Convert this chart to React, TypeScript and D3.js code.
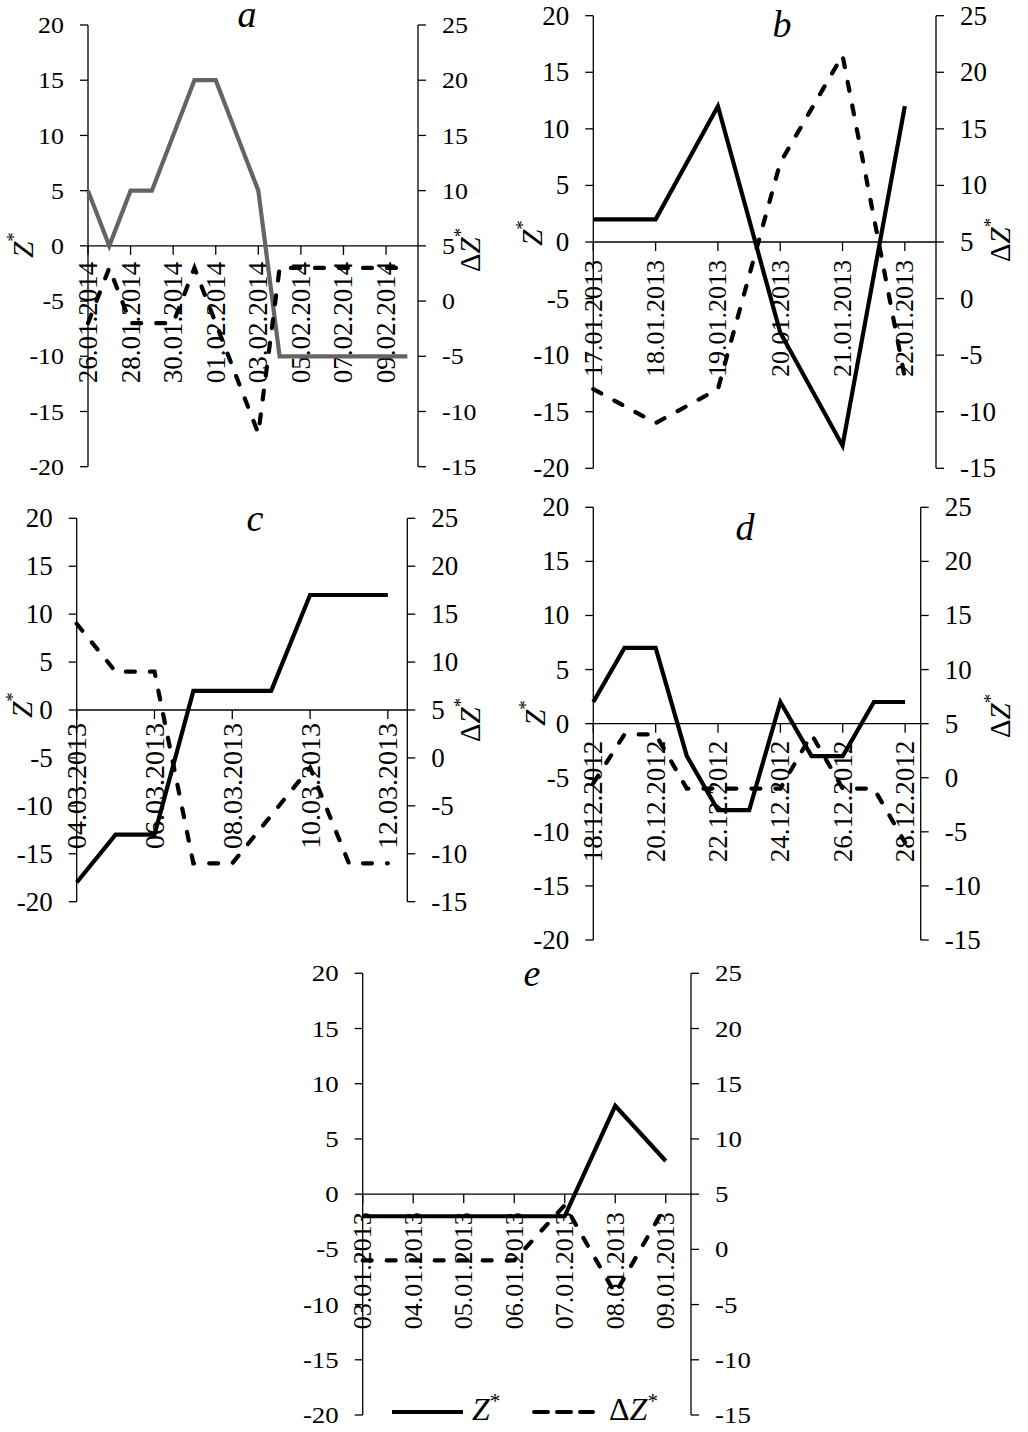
import React from 'react';
import * as d3 from 'd3';

// ---- data ----
const leftTicks = [20, 15, 10, 5, 0, -5, -10, -15, -20];
const rightTicks = [25, 20, 15, 10, 5, 0, -5, -10, -15];

const datesA = ['26.01.2014', '27.01.2014', '28.01.2014', '29.01.2014', '30.01.2014', '31.01.2014', '01.02.2014', '02.02.2014', '03.02.2014', '04.02.2014', '05.02.2014', '06.02.2014', '07.02.2014', '08.02.2014', '09.02.2014', '10.02.2014'];
const zA = [5, 0, 5, 5, 10, 15, 15, 10, 5, -10, -10, -10, -10, -10, -10, -10];
const dzA = [-2, 3, -2, -2, -2, 3, -2, -7, -12, 3, 3, 3, 3, 3, 3, 3];

const datesB = ['17.01.2013', '18.01.2013', '19.01.2013', '20.01.2013', '21.01.2013', '22.01.2013'];
const zB = [2, 2, 12, -8, -18, 12];
const dzB = [-8, -11, -8, 12, 21.5, -7];

const datesC = ['04.03.2013', '05.03.2013', '06.03.2013', '07.03.2013', '08.03.2013', '09.03.2013', '10.03.2013', '11.03.2013', '12.03.2013'];
const zC = [-18, -13, -13, 2, 2, 2, 12, 12, 12];
const dzC = [14, 9, 9, -11, -11, -6, -1, -11, -11];

const datesD = ['18.12.2012', '19.12.2012', '20.12.2012', '21.12.2012', '22.12.2012', '23.12.2012', '24.12.2012', '25.12.2012', '26.12.2012', '27.12.2012', '28.12.2012'];
const zD = [2, 7, 7, -3, -8, -8, 2, -3, -3, 2, 2];
const dzD = [-0.5, 4, 4, -1, -1, -1, -1, 4, -1, -1, -6];

const datesE = ['03.01.2013', '04.01.2013', '05.01.2013', '06.01.2013', '07.01.2013', '08.01.2013', '09.01.2013'];
const zE = [-2, -2, -2, -2, -2, 8, 3];
const dzE = [-1, -1, -1, -1, 4, -4, 4];

// ---- layout ----
type PanelCfg = {
  title: string; dates: string[]; z: number[]; dz: number[]; every: number;
  x0: number; x1: number; yTop: number; yBot: number; zColor: string;
  titleX: number; titleY: number; yFont: number; yStretch: number; xFont: number; xGap: number;
  zT: [number, number] | null; dzT: [number, number] | null;
};

const panels: PanelCfg[] = [
  { title: 'a', dates: datesA, z: zA, dz: dzA, every: 2, x0: 88, x1: 418, yTop: 25, yBot: 466.7, zColor: '#646464', titleX: 247, titleY: 27, yFont: 24, yStretch: 1.08, xFont: 27, xGap: 16, zT: [23, 245], dzT: [470, 250] },
  { title: 'b', dates: datesB, z: zB, dz: dzB, every: 1, x0: 593.3, x1: 936, yTop: 15.7, yBot: 468.3, zColor: '#000', titleX: 782, titleY: 37, yFont: 27, yStretch: 1, xFont: 26, xGap: 18, zT: [532, 233], dzT: [1000, 240] },
  { title: 'c', dates: datesC, z: zC, dz: dzC, every: 2, x0: 76.7, x1: 407.3, yTop: 518.3, yBot: 901.7, zColor: '#000', titleX: 255, titleY: 531, yFont: 27, yStretch: 1, xFont: 28, xGap: 13, zT: [22, 705], dzT: [470, 720] },
  { title: 'd', dates: datesD, z: zD, dz: dzD, every: 2, x0: 593.3, x1: 920.7, yTop: 507.3, yBot: 940, zColor: '#000', titleX: 745, titleY: 540, yFont: 27, yStretch: 1, xFont: 27, xGap: 17, zT: [535, 713], dzT: [1000, 716] },
  { title: 'e', dates: datesE, z: zE, dz: dzE, every: 1, x0: 362.7, x1: 691, yTop: 973.3, yBot: 1415, zColor: '#000', titleX: 532, titleY: 986, yFont: 24, yStretch: 1.12, xFont: 26, xGap: 18, zT: null, dzT: null },
];

const FONT = "'Liberation Serif', 'Times New Roman', serif";
const DASH = '9 15';

function ZLabel({ x, y, delta, size }: { x: number; y: number; delta?: boolean; size: number }) {
  return (
    <text transform={`translate(${x},${y}) rotate(-90)`} textAnchor="middle" dominantBaseline="central" fontSize={size} fontFamily={FONT}>
      {delta ? <tspan>Δ</tspan> : null}
      <tspan fontStyle="italic">Z</tspan>
      <tspan fontSize={size * 0.65} dy={-size * 0.35}>*</tspan>
    </text>
  );
}

function Panel({ p }: { p: PanelCfg }) {
  const n = p.dates.length;
  const x = d3.scaleLinear().domain([0, n - 0.5]).range([p.x0, p.x1]);
  const yL = d3.scaleLinear().domain([-20, 20]).range([p.yBot, p.yTop]);
  const yR = d3.scaleLinear().domain([-15, 25]).range([p.yBot, p.yTop]);
  const zeroY = yL(0);
  const lineL = d3.line<number>().x((_, i) => x(i)).y((v) => yL(v));
  const lineR = d3.line<number>().x((_, i) => x(i)).y((v) => yR(v));
  const idx = d3.range(n).filter((i) => i % p.every === 0);
  return (
    <g fontFamily={FONT}>
      {/* axes */}
      <line x1={p.x0} x2={p.x0} y1={p.yTop} y2={p.yBot} stroke="#000" strokeWidth={1.3} />
      <line x1={p.x1} x2={p.x1} y1={p.yTop} y2={p.yBot} stroke="#000" strokeWidth={1.3} />
      <line x1={p.x0} x2={p.x1} y1={zeroY} y2={zeroY} stroke="#000" strokeWidth={1.3} />
      {leftTicks.map((v) => (
        <g key={'l' + v}>
          <line x1={p.x0 - 8} x2={p.x0} y1={yL(v)} y2={yL(v)} stroke="#000" strokeWidth={1.3} />
          <text transform={`translate(${p.x0 - 24},${yL(v)}) scale(${p.yStretch},1)`} textAnchor="end" dominantBaseline="central" fontSize={p.yFont}>{v}</text>
        </g>
      ))}
      {rightTicks.map((v) => (
        <g key={'r' + v}>
          <line x1={p.x1} x2={p.x1 + 8} y1={yR(v)} y2={yR(v)} stroke="#000" strokeWidth={1.3} />
          <text transform={`translate(${p.x1 + 24},${yR(v)}) scale(${p.yStretch},1)`} textAnchor="start" dominantBaseline="central" fontSize={p.yFont}>{v}</text>
        </g>
      ))}
      {idx.map((i) => (
        <g key={'x' + i}>
          <line x1={x(i)} x2={x(i)} y1={zeroY} y2={zeroY + 9} stroke="#000" strokeWidth={1.3} />
          <text transform={`translate(${x(i)},${zeroY + p.xGap}) rotate(-90)`} textAnchor="end" dominantBaseline="central" fontSize={p.xFont}>{p.dates[i]}</text>
        </g>
      ))}
      {/* series */}
      <path d={lineL(p.z) || ''} fill="none" stroke={p.zColor} strokeWidth={4.2} />
      <path d={lineR(p.dz) || ''} fill="none" stroke="#000" strokeWidth={4.2} strokeDasharray={DASH} strokeLinecap="round" />
      {/* titles */}
      <text x={p.titleX} y={p.titleY} textAnchor="middle" fontSize={38} fontStyle="italic">{p.title}</text>
      {p.zT ? <ZLabel x={p.zT[0]} y={p.zT[1]} size={29} /> : null}
      {p.dzT ? <ZLabel x={p.dzT[0]} y={p.dzT[1]} size={29} delta /> : null}
    </g>
  );
}

export default function App() {
  return (
    <svg width={1028} height={1432} style={{ position: 'absolute', left: 0, top: 0, background: '#fff' }}>
      <rect x={0} y={0} width={1028} height={1432} fill="#fff" />
      {panels.map((p) => <Panel key={p.title} p={p} />)}
      {/* legend */}
      <g fontFamily={FONT}>
        <line x1={392} x2={463} y1={1412} y2={1412} stroke="#000" strokeWidth={4} />
        <text x={472} y={1420} fontSize={32}>
          <tspan fontStyle="italic">Z</tspan>
          <tspan fontSize={21} dy={-12}>*</tspan>
        </text>
        <line x1={534} x2={593} y1={1412} y2={1412} stroke="#000" strokeWidth={4} strokeDasharray="14 9" strokeLinecap="round" />
        <text x={609} y={1420} fontSize={32}>
          <tspan>Δ</tspan>
          <tspan fontStyle="italic">Z</tspan>
          <tspan fontSize={21} dy={-12}>*</tspan>
        </text>
      </g>
    </svg>
  );
}
